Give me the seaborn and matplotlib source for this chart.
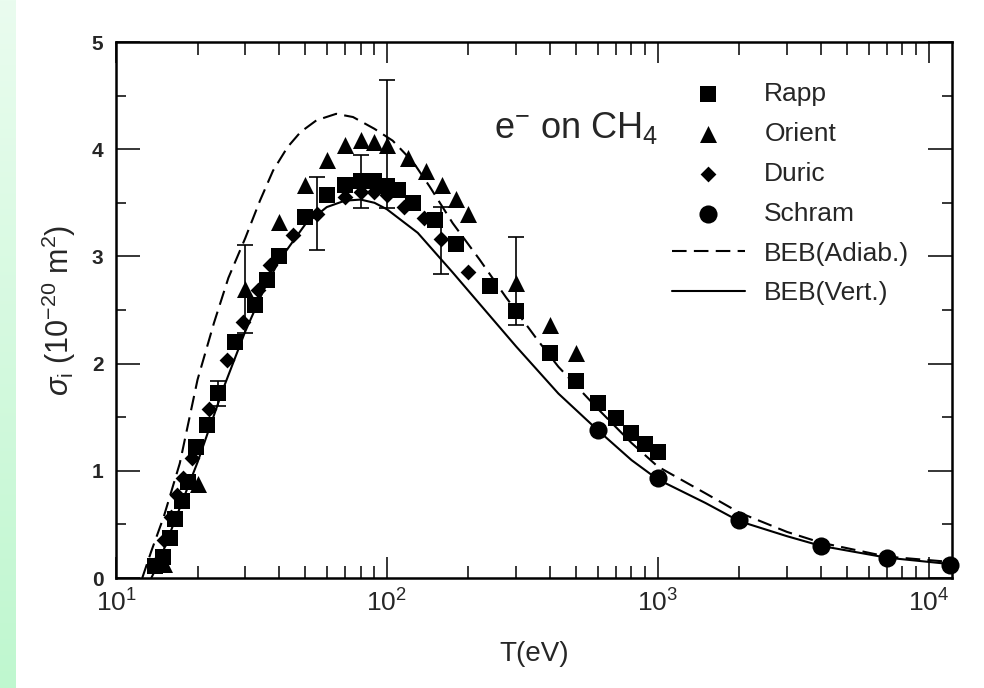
import numpy as np
import pandas as pd
import matplotlib
matplotlib.use("Agg")
import matplotlib.pyplot as plt
from matplotlib.ticker import LogLocator, FixedLocator, NullFormatter, LogFormatterMathtext
from matplotlib.colors import LinearSegmentedColormap
import seaborn as sns

# ---------------- data ----------------
rapp_T = [13.9, 14.9, 15.8, 16.5, 17.5, 18.5, 19.8, 21.6, 23.8, 27.4, 32.5, 36, 40, 50,
          60, 70, 80, 90, 100, 110, 125, 150, 180, 240, 300, 400, 500, 600, 700, 800, 900, 1000]
rapp_sigma = [0.11, 0.20, 0.37, 0.55, 0.72, 0.90, 1.22, 1.43, 1.73, 2.20, 2.55, 2.78, 3.00, 3.37,
              3.57, 3.67, 3.70, 3.70, 3.66, 3.62, 3.50, 3.34, 3.12, 2.72, 2.49, 2.10, 1.84, 1.63,
              1.49, 1.35, 1.25, 1.18]

orient_T = [15, 20, 30, 40, 50, 60, 70, 80, 90, 100, 120, 140, 160, 180, 200, 300, 400, 500]
orient_sigma = [0.13, 0.88, 2.70, 3.32, 3.67, 3.90, 4.04, 4.09, 4.07, 4.04, 3.92, 3.80, 3.67,
                3.54, 3.40, 2.75, 2.36, 2.10]

duric_T = [13.8, 15.1, 16.0, 16.8, 17.7, 19.0, 22.0, 25.6, 29.5, 33.5, 37, 45, 55, 70, 80,
           90, 100, 116, 137, 158, 200]
duric_sigma = [0.12, 0.35, 0.57, 0.77, 0.93, 1.12, 1.58, 2.03, 2.39, 2.69, 2.92, 3.20, 3.40,
               3.55, 3.60, 3.60, 3.57, 3.46, 3.36, 3.16, 2.85]

schram_T = [600, 1000, 2000, 4000, 7000, 12000]
schram_sigma = [1.38, 0.93, 0.54, 0.30, 0.19, 0.12]

beb_adiab_T = [12.5, 13.5, 15, 17.2, 20, 23, 26, 30, 34, 38, 43, 48, 55, 65, 75, 90, 105,
               125, 144, 175, 220, 275, 360, 430, 600, 800, 1000, 1500, 2000, 3000, 4000,
               7000, 12000]
beb_adiab_sigma = [0.00, 0.25, 0.57, 1.07, 1.85, 2.38, 2.80, 3.17, 3.52, 3.80, 4.02, 4.16,
                   4.27, 4.33, 4.30, 4.19, 4.08, 3.88, 3.65, 3.31, 2.97, 2.62, 2.22, 1.97,
                   1.58, 1.26, 1.04, 0.79, 0.61, 0.43, 0.33, 0.20, 0.15]

beb_vert_T = [13.5, 14.5, 15.5, 17, 18.5, 20, 22, 25, 30, 35, 40, 50, 60, 70, 80, 90, 100,
              130, 175, 230, 300, 430, 600, 800, 1000, 1500, 2000, 3000, 4000, 7000, 12000]
beb_vert_sigma = [0.00, 0.16, 0.36, 0.62, 0.86, 1.08, 1.38, 1.78, 2.30, 2.68, 2.96, 3.30,
                  3.46, 3.52, 3.53, 3.50, 3.44, 3.22, 2.85, 2.50, 2.16, 1.72, 1.38, 1.10,
                  0.92, 0.70, 0.53, 0.39, 0.30, 0.19, 0.13]

# error bars (energy, centre value, half-width)
err_T = [23.8, 30, 55, 80, 100, 158, 300]
err_sigma = [1.72, 2.70, 3.40, 3.70, 4.05, 3.15, 2.77]
err_half = [0.12, 0.41, 0.34, 0.25, 0.60, 0.31, 0.41]

legend_labels = ["Rapp", "Orient", "Duric", "Schram", "BEB(Adiab.)", "BEB(Vert.)"]
y_ticks = [0, 1, 2, 3, 4, 5]

# ---------------- style ----------------
sns.set_theme(style="ticks")
plt.rcParams["font.family"] = ["Liberation Sans", "DejaVu Sans"]
plt.rcParams["mathtext.fontset"] = "custom"
plt.rcParams["mathtext.rm"] = "Liberation Sans"
plt.rcParams["mathtext.it"] = "Liberation Sans:italic"
plt.rcParams["mathtext.bf"] = "Liberation Sans:bold"

fig = plt.figure(figsize=(9.84, 6.88), dpi=100)
fig.patch.set_facecolor("white")

# light green strip at the far left
strip = fig.add_axes([0, 0, 16 / 984, 1])
grad = np.linspace(0, 1, 256).reshape(-1, 1)
cmap = LinearSegmentedColormap.from_list("g", ["#eafcef", "#bff7cf"])
strip.imshow(grad, aspect="auto", cmap=cmap, extent=[0, 1, 0, 1], origin="upper")
strip.set_axis_off()

ax = fig.add_axes([116 / 984, 1 - 578 / 688, (952 - 116) / 984, (578 - 42) / 688])
ax.set_facecolor("white")

k = "black"
sns.lineplot(x=beb_adiab_T, y=beb_adiab_sigma, ax=ax, color=k, lw=1.5,
             dashes=False, linestyle=(0, (7, 3.5)), label=legend_labels[4], sort=False)
sns.lineplot(x=beb_vert_T, y=beb_vert_sigma, ax=ax, color=k, lw=1.5,
             label=legend_labels[5], sort=False)

ax.errorbar(err_T, err_sigma, yerr=err_half, fmt="none", ecolor=k, elinewidth=1.2,
            capsize=5.5, capthick=1.2, zorder=2)

sns.scatterplot(x=rapp_T, y=rapp_sigma, ax=ax, marker="s", s=145, color=k, edgecolor=k,
                linewidth=0, label=legend_labels[0], zorder=3)
sns.scatterplot(x=orient_T, y=orient_sigma, ax=ax, marker="^", s=150, color=k, edgecolor=k,
                linewidth=0, label=legend_labels[1], zorder=3)
sns.scatterplot(x=duric_T, y=duric_sigma, ax=ax, marker="D", s=65, color=k, edgecolor=k,
                linewidth=0, label=legend_labels[2], zorder=3)
sns.scatterplot(x=schram_T, y=schram_sigma, ax=ax, marker="o", s=170, color=k, edgecolor=k,
                linewidth=0, label=legend_labels[3], zorder=3, clip_on=False)

ax.set_xscale("log")
ax.set_xlim(10, 12200)
ax.set_ylim(0, 5)

ax.xaxis.set_major_locator(LogLocator(base=10, numticks=10))
ax.xaxis.set_minor_locator(LogLocator(base=10, subs=np.arange(2, 10), numticks=20))
ax.xaxis.set_major_formatter(LogFormatterMathtext())
ax.xaxis.set_minor_formatter(NullFormatter())
ax.yaxis.set_major_locator(FixedLocator(y_ticks))
ax.yaxis.set_minor_locator(FixedLocator([0.5, 1.5, 2.5, 3.5, 4.5]))
ax.set_yticklabels([str(v) for v in y_ticks], fontweight="bold")

for sp in ax.spines.values():
    sp.set_visible(True)
    sp.set_linewidth(1.8)
    sp.set_color(k)

ax.tick_params(axis="both", which="both", direction="in", top=True, right=True,
               color=k, width=1.1)
ax.tick_params(axis="x", which="major", length=15, labelsize=19, pad=8)
ax.tick_params(axis="x", which="minor", length=9)
ax.tick_params(axis="y", which="major", length=17, labelsize=15, pad=9)
ax.tick_params(axis="y", which="minor", length=7)

ax.set_xlabel("T(eV)", fontsize=20, labelpad=18)
ax.set_ylabel(r"$\sigma_{\mathrm{i}}\ (10^{-20}\ \mathrm{m}^{2})$", fontsize=22, labelpad=10)

ax.text(249, 4.10, r"e$^{-}$ on CH$_{4}$", fontsize=26, ha="left", va="baseline")

handles, labels = ax.get_legend_handles_labels()
hmap = dict(zip(labels, handles))
ax.legend([hmap[l] for l in legend_labels], legend_labels, loc="upper left",
          bbox_to_anchor=(0.665, 0.925), frameon=False, fontsize=19,
          handlelength=2.75, handletextpad=0.75, labelspacing=0.6, borderpad=0,
          borderaxespad=0, markerscale=1.0)

fig.savefig("out.png", dpi=100)
